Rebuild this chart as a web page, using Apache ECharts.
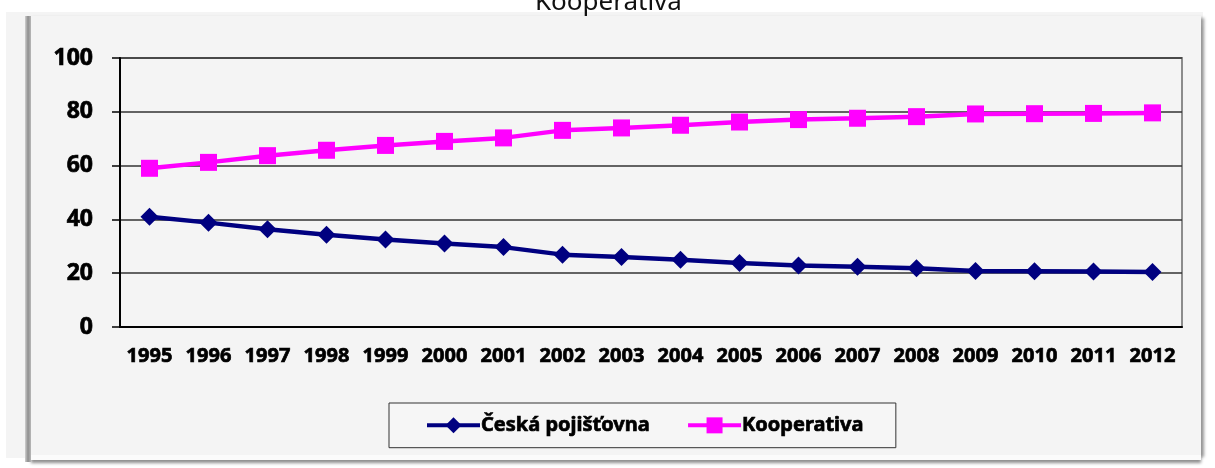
<!DOCTYPE html>
<html>
<head>
<meta charset="utf-8">
<script src="https://cdn.jsdelivr.net/npm/echarts@6/dist/echarts.min.js"></script>
<style>
  body { margin: 0; background: #fff; }
  #panel { position: absolute; left: 6px; top: 12px; width: 1197px; height: 446px; background: #f4f4f4; }
  #frame {
    position: absolute; left: 29px; top: 16px; width: 1172px; height: 439px; background: #f4f4f4;
    box-shadow: 0 5px 0 0 #fbfbfb, 1px 9px 3px -1px #8f8f8f, 3px 2px 3px 0 #9c9c9c;
  }
  #leftEdge {
    position: absolute; left: 25px; top: 16px; width: 6px; height: 446px;
    background: linear-gradient(to right, #d0d0d0, #8e8e8e 50%, #b8b8b8);
  }
  #chart { position: absolute; left: 0; top: 0; width: 1215px; height: 468px; }
</style>
</head>
<body>
<div id="panel"></div>
<div id="frame"></div>
<div id="leftEdge"></div>
<div id="chart"></div>
<script>
const years = ['1995', '1996', '1997', '1998', '1999', '2000', '2001', '2002', '2003',
  '2004', '2005', '2006', '2007', '2008', '2009', '2010', '2011', '2012'];
const ceskaPojistovna = [41.0, 38.8, 36.3, 34.3, 32.5, 31.0, 29.7, 26.9, 26.0,
  25.0, 23.8, 22.9, 22.4, 21.8, 20.8, 20.7, 20.6, 20.4];
const kooperativa = [59.0, 61.2, 63.7, 65.7, 67.5, 69.0, 70.3, 73.1, 74.0,
  75.0, 76.2, 77.1, 77.6, 78.2, 79.2, 79.3, 79.4, 79.6];
const yTicks = [0, 20, 40, 60, 80, 100];

const font = '"Noto Sans", "Open Sans", sans-serif';
// thin outline to make the bold labels a bit heavier
const heavy = { textBorderColor: '#000', textBorderWidth: 0.7 };
const chart = echarts.init(document.getElementById('chart'));

const option = {
  animation: false,
  textStyle: { fontFamily: font, color: '#000' },
  graphic: [
    {
      type: 'text',
      left: 535,
      top: -10,
      style: { text: 'Kooperativa', fontSize: 26, fontFamily: font, fill: '#111' }
    }
  ],
  grid: {
    left: 120,
    right: 33,
    top: 58,
    bottom: 141,
    show: true,
    borderColor: '#8c8c8c',
    borderWidth: 2,
    backgroundColor: 'transparent'
  },
  legend: {
    left: 389,
    top: 403,
    padding: [12, 32, 12, 36],
    itemGap: 36,
    itemWidth: 53,
    itemHeight: 20,
    borderColor: '#333',
    borderWidth: 1,
    backgroundColor: '#f6f6f6',
    lineStyle: { width: 4 },
    textStyle: Object.assign({ fontSize: 20, fontWeight: 'bold', fontFamily: font, color: '#000', padding: [0, 0, 0, -4] }, heavy),
    data: ['Česká pojišťovna', 'Kooperativa']
  },
  xAxis: {
    type: 'category',
    data: years,
    axisLine: { lineStyle: { color: '#000', width: 2 } },
    axisTick: { length: 7, lineStyle: { color: '#000', width: 1.5 } },
    axisLabel: Object.assign({ fontSize: 20, fontWeight: 'bold', margin: 19, interval: 0, color: '#000' }, heavy)
  },
  yAxis: {
    type: 'value',
    min: yTicks[0],
    max: yTicks[yTicks.length - 1],
    interval: yTicks[1] - yTicks[0],
    axisLine: { show: true, lineStyle: { color: '#000', width: 2 } },
    axisTick: { show: true, length: 8, lineStyle: { color: '#000', width: 1.5 } },
    axisLabel: Object.assign({ fontSize: 23, fontWeight: 'bold', margin: 27, color: '#000' }, heavy),
    splitLine: { lineStyle: { color: '#333', width: 1.5 } }
  },
  series: [
    {
      name: 'Česká pojišťovna',
      type: 'line',
      data: ceskaPojistovna,
      color: '#000080',
      symbol: 'diamond',
      symbolSize: 18,
      showAllSymbol: true,
      lineStyle: { width: 4.5, color: '#000080' },
      itemStyle: { color: '#000080' }
    },
    {
      name: 'Kooperativa',
      type: 'line',
      data: kooperativa,
      color: '#ff00ff',
      symbol: 'rect',
      symbolSize: 17,
      showAllSymbol: true,
      lineStyle: { width: 4.5, color: '#ff00ff' },
      itemStyle: { color: '#ff00ff' }
    }
  ]
};

chart.setOption(option);
</script>
</body>
</html>
